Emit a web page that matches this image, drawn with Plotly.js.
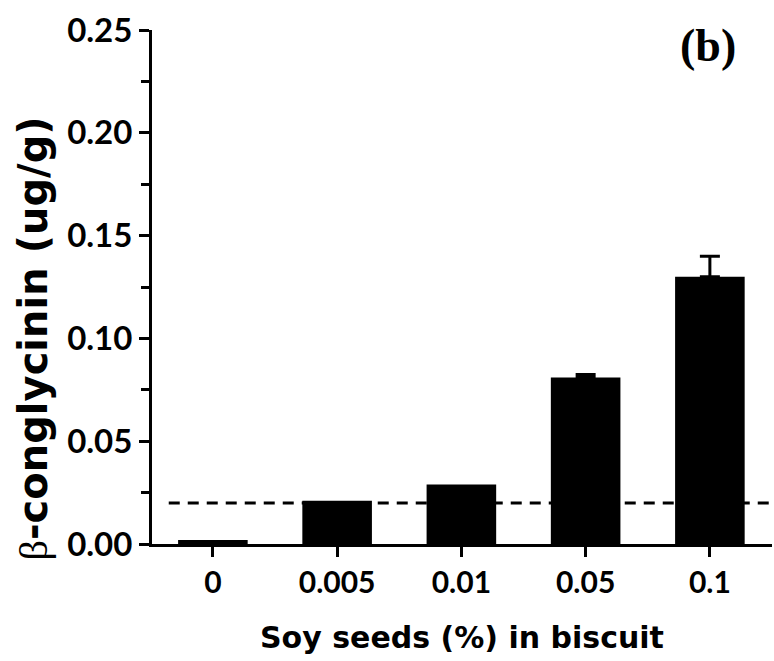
<!DOCTYPE html>
<html>
<head>
<meta charset="utf-8">
<script src="https://cdn.plot.ly/plotly-3.0.1.min.js"></script>
<style>html,body{margin:0;padding:0;background:#fff;}#chart{width:774px;height:661px;}</style>
</head>
<body>
<div id="chart"></div>
<script>
const categories = ['0', '0.005', '0.01', '0.05', '0.1'];
const values = [0.002, 0.021, 0.029, 0.081, 0.130];
const errorsUp = [null, null, null, 0.0015, 0.010];
const yTickVals = [0, 0.05, 0.10, 0.15, 0.20, 0.25];
const yTickText = ['0.00', '0.05', '0.10', '0.15', '0.20', '0.25'];
const detectionLimit = 0.02;
const xTitle = 'Soy seeds (%) in biscuit';
const yTitle = '<span style="font-family:\'Liberation Serif\',serif;font-weight:normal">β</span>-conglycinin (ug/g)';
const panelLabel = '(b)';

const trace = {
  type: 'bar',
  x: categories,
  y: values,
  width: 0.56,
  marker: {color: '#000', line: {color: '#000', width: 0}},
  error_y: {type: 'data', symmetric: false,
            array: errorsUp.map(v => v === null ? NaN : v),
            arrayminus: errorsUp.map(v => v === null ? NaN : 0),
            color: '#000', thickness: 3, width: 10, visible: true},
  hoverinfo: 'none'
};

const layout = {
  width: 774, height: 661,
  margin: {l: 152, r: 2, t: 30, b: 117},
  paper_bgcolor: '#fff', plot_bgcolor: '#fff',
  showlegend: false,
  xaxis: {
    type: 'category',
    range: [-0.49, 4.5],
    showgrid: false, zeroline: false,
    showline: true, linecolor: '#000', linewidth: 3,
    ticks: 'outside', ticklen: 10, tickwidth: 3, tickcolor: '#000',
    tickfont: {family: 'Lato, "Open Sans", sans-serif', size: 30, color: '#000', weight: 'bold'}
  },
  yaxis: {
    range: [0, 0.25],
    tickvals: yTickVals, ticktext: yTickText,
    showgrid: false, zeroline: false,
    showline: true, linecolor: '#000', linewidth: 3,
    ticks: 'outside', ticklen: 10, tickwidth: 3, tickcolor: '#000',
    minor: {dtick: 0.025, tick0: 0, ticks: 'outside', ticklen: 8, tickwidth: 3, tickcolor: '#000', showgrid: false},
    tickfont: {family: 'Lato, "Open Sans", sans-serif', size: 33, color: '#000', weight: 'bold'}
  },
  shapes: [{
    type: 'line', xref: 'paper', yref: 'y', x0: 0.027, x1: 1, y0: detectionLimit, y1: detectionLimit,
    line: {color: '#000', width: 3, dash: '11px,8px'}, layer: 'below'
  }],
  annotations: [
    {text: panelLabel, xref: 'paper', yref: 'paper', x: 0.897, y: 0.969, xanchor: 'center', yanchor: 'middle',
     showarrow: false, font: {family: '"Liberation Serif", "Times New Roman", serif', size: 46, color: '#000', weight: 'bold'}},
    {text: xTitle, xref: 'paper', yref: 'paper', x: 0.5, y: -0.181, xanchor: 'center', yanchor: 'middle',
     showarrow: false, font: {family: '"DejaVu Sans", sans-serif', size: 30, color: '#000', weight: 'bold'}},
    {text: yTitle, xref: 'paper', yref: 'paper', x: 0, xshift: -119, y: 0.40, xanchor: 'center', yanchor: 'middle',
     textangle: -90, showarrow: false, font: {family: '"DejaVu Sans", sans-serif', size: 40, color: '#000', weight: 'bold'}}
  ]
};

Plotly.newPlot('chart', [trace], layout, {displayModeBar: false, staticPlot: true});
</script>
</body>
</html>
